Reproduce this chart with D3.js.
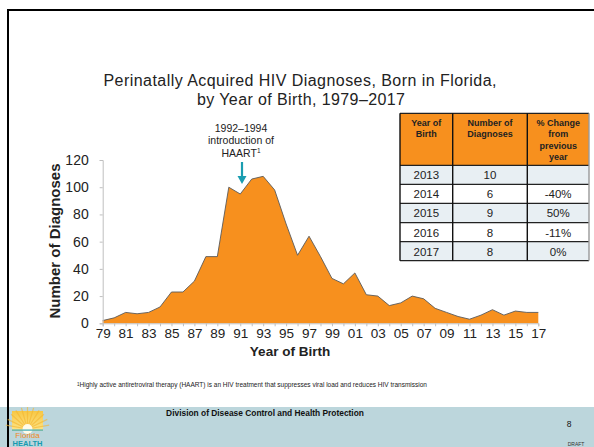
<!DOCTYPE html>
<html>
<head>
<meta charset="utf-8">
<script src="https://cdn.jsdelivr.net/npm/d3@7"></script>
<style>
  html, body { margin: 0; padding: 0; background: #fff; }
  svg { display: block; font-family: Arial, "Liberation Sans", sans-serif; }
</style>
</head>
<body>
<svg id="slide" width="594" height="447"></svg>
<script>
// ---- data
const years = d3.range(1979, 2018);
const diagnoses = [2, 4, 8, 7, 8, 12, 23, 23, 31, 49, 49, 100, 95, 106, 108, 98, 73, 50, 64, 49,
                   33, 29, 37, 21, 20, 13, 15, 20, 18, 11, 8, 5, 3, 6, 10, 6, 9, 8, 8];
const yTicks = [0, 20, 40, 60, 80, 100, 120];

const tableYears = ["2013", "2014", "2015", "2016", "2017"];
const tableCounts = ["10", "6", "9", "8", "8"];
const tableChange = ["", "-40%", "50%", "-11%", "0%"];

const data = years.map((y, i) => ({ year: y, n: diagnoses[i] }));

const svg = d3.select("#slide");
const orange = "#f7901e";

// ---- slide frame + footer band
svg.append("rect").attr("x", 0).attr("y", 407).attr("width", 594).attr("height", 40).attr("fill", "#bcd6dc");
svg.append("path").attr("d", "M8,447 V10 H594").attr("fill", "none").attr("stroke", "#000").attr("stroke-width", 2);

// ---- title (two separate lines)
svg.append("text").attr("x", 300).attr("y", 86).attr("text-anchor", "middle").attr("font-size", 16)
  .attr("fill", "#222").attr("textLength", 393).attr("lengthAdjust", "spacing")
  .text("Perinatally Acquired HIV Diagnoses, Born in Florida,");
svg.append("text").attr("x", 301).attr("y", 104.5).attr("text-anchor", "middle").attr("font-size", 16)
  .attr("fill", "#222").attr("textLength", 208).attr("lengthAdjust", "spacing")
  .text("by Year of Birth, 1979–2017");

// ---- scales
const x = d3.scaleLinear().domain([1979, 2017]).range([102.7, 538.3]);
const y = d3.scaleLinear().domain([0, 120]).range([323.3, 160]);

// area
const area = d3.area().x(d => x(d.year)).y0(y(0)).y1(d => y(d.n));
const line = d3.line().x(d => x(d.year)).y(d => y(d.n));
svg.append("path").datum(data).attr("d", area).attr("fill", orange);
svg.append("path").datum(data).attr("d", line).attr("fill", "none").attr("stroke", "#5a5a5a").attr("stroke-width", 0.9);

// y axis
const yAxis = svg.append("g").attr("transform", `translate(${x(1979)},0)`)
  .call(d3.axisLeft(y).tickValues(yTicks).tickSize(3).tickPadding(11));
yAxis.select(".domain").attr("stroke", "#bfbfbf");
yAxis.selectAll(".tick line").attr("stroke", "#bfbfbf");
yAxis.selectAll("text").attr("font-size", 14).attr("fill", "#222").attr("font-family", "Arial, 'Liberation Sans', sans-serif");

// x axis
const xAxis = svg.append("g").attr("transform", `translate(0,${y(0)})`)
  .call(d3.axisBottom(x).tickValues(years).tickSize(3).tickPadding(2)
    .tickFormat(d => (d - 1979) % 2 === 0 ? String(d).slice(2) : ""));
xAxis.select(".domain").attr("stroke", "#bfbfbf");
xAxis.selectAll(".tick line").attr("stroke", "#bfbfbf");
xAxis.selectAll("text").attr("font-size", 13.5).attr("fill", "#222").attr("font-family", "Arial, 'Liberation Sans', sans-serif");

// axis titles
svg.append("text").attr("x", 290).attr("y", 356).attr("text-anchor", "middle")
  .attr("font-size", 13.5).attr("font-weight", "bold").attr("fill", "#222").text("Year of Birth");
svg.append("text").attr("transform", "translate(60,241) rotate(-90)").attr("text-anchor", "middle")
  .attr("font-size", 15).attr("font-weight", "bold").attr("fill", "#222").text("Number of Diagnoses");

// ---- HAART annotation
const note = svg.append("text").attr("text-anchor", "middle").attr("font-size", 10.5).attr("fill", "#222");
["1992–1994", "introduction of"].forEach((t, i) =>
  note.append("tspan").attr("x", 241).attr("y", 132 + i * 12.3).text(t));
note.append("tspan").attr("x", 241).attr("y", 156.6).text("HAART");
note.append("tspan").attr("font-size", 6.5).attr("dy", -3.5).text("1");
svg.append("line").attr("x1", 242).attr("x2", 242).attr("y1", 162).attr("y2", 177)
  .attr("stroke", "#1a9db0").attr("stroke-width", 2.2);
svg.append("path").attr("d", "M237.5,176 L246.5,176 L242,184 Z").attr("fill", "#1a9db0");

// ---- table
const colX = [400, 452.7, 527.3, 589];
const rowY = [113.3, 165.3, 184.3, 203.3, 222.7, 241.7, 260.7];
const tbl = svg.append("g");
tbl.append("rect").attr("x", colX[0]).attr("y", rowY[0]).attr("width", colX[3] - colX[0]).attr("height", rowY[1] - rowY[0]).attr("fill", orange);
tableYears.forEach((yr, i) => {
  tbl.append("rect").attr("x", colX[0]).attr("y", rowY[i + 1]).attr("width", colX[3] - colX[0])
    .attr("height", rowY[i + 2] - rowY[i + 1]).attr("fill", i % 2 === 0 ? "#e8eff3" : "#fff");
  [yr, tableCounts[i], tableChange[i]].forEach((t, c) => {
    tbl.append("text").attr("x", (colX[c] + colX[c + 1]) / 2).attr("y", rowY[i + 1] + 14)
      .attr("text-anchor", "middle").attr("font-size", 11.5).attr("fill", "#222").text(t);
  });
});
// grid lines
rowY.forEach(yy => tbl.append("line").attr("x1", colX[0]).attr("x2", colX[3]).attr("y1", yy).attr("y2", yy)
  .attr("stroke", "#222").attr("stroke-width", 1.2));
colX.forEach((xx, i) => tbl.append("line").attr("x1", xx).attr("x2", xx).attr("y1", rowY[0]).attr("y2", rowY[6])
  .attr("stroke", i === 3 ? "#999" : "#111").attr("stroke-width", 1.4));
// header text
const heads = [["Year of", "Birth"], ["Number of", "Diagnoses"], ["% Change", "from", "previous", "year"]];
heads.forEach((lines, c) => {
  const t = tbl.append("text").attr("text-anchor", "middle").attr("font-size", 9).attr("font-weight", "bold").attr("fill", "#222");
  lines.forEach((l, k) => t.append("tspan").attr("x", (colX[c] + colX[c + 1]) / 2).attr("y", 125.5 + k * 11.5).text(l));
});

// ---- footnote + footer
const fn = svg.append("text").attr("x", 77).attr("y", 387).attr("font-size", 6.5).attr("fill", "#222");
fn.append("tspan").attr("font-size", 4.5).attr("dy", -1.5).text("1");
fn.append("tspan").attr("dy", 1.5).text("Highly active antiretroviral therapy (HAART) is an HIV treatment that suppresses viral load and reduces HIV transmission");

svg.append("text").attr("x", 265).attr("y", 416).attr("text-anchor", "middle").attr("font-size", 8.4)
  .attr("font-weight", "bold").attr("fill", "#111").text("Division of Disease Control and Health Protection");
svg.append("text").attr("x", 569).attr("y", 427).attr("text-anchor", "middle").attr("font-size", 8.5)
  .attr("fill", "#111").text("8");
svg.append("text").attr("x", 576).attr("y", 445.5).attr("text-anchor", "middle").attr("font-size", 5)
  .attr("fill", "#333").text("DRAFT");

// logo
const logo = svg.append("g");
const grad = svg.append("defs").append("linearGradient").attr("id", "sun").attr("x1", 0).attr("y1", 0).attr("x2", 0).attr("y2", 1);
grad.append("stop").attr("offset", "0%").attr("stop-color", "#f7c744");
grad.append("stop").attr("offset", "100%").attr("stop-color", "#fde58a");
logo.append("rect").attr("x", 12).attr("y", 411).attr("width", 31).attr("height", 20).attr("fill", "url(#sun)");
d3.range(-80, 81, 16).forEach(a => {
  const r = Math.PI * a / 180;
  logo.append("line").attr("x1", 27.5).attr("y1", 429).attr("x2", 27.5 + 22 * Math.sin(r)).attr("y2", 429 - 22 * Math.cos(r))
    .attr("stroke", "#f5b52e").attr("stroke-width", 1.2).attr("opacity", 0.6);
});
logo.append("circle").attr("cx", 27.5).attr("cy", 429).attr("r", 5).attr("fill", "#fffbe8");
logo.append("rect").attr("x", 12).attr("y", 429.5).attr("width", 31).attr("height", 1.2).attr("fill", "#3aa7b8");
logo.append("text").attr("x", 27.5).attr("y", 438).attr("text-anchor", "middle").attr("font-size", 8).attr("fill", "#f08a1c").text("Florida");
logo.append("text").attr("x", 27.5).attr("y", 446).attr("text-anchor", "middle").attr("font-size", 7.5).attr("font-weight", "bold").attr("fill", "#159ab0").text("HEALTH");
</script>
</body>
</html>
